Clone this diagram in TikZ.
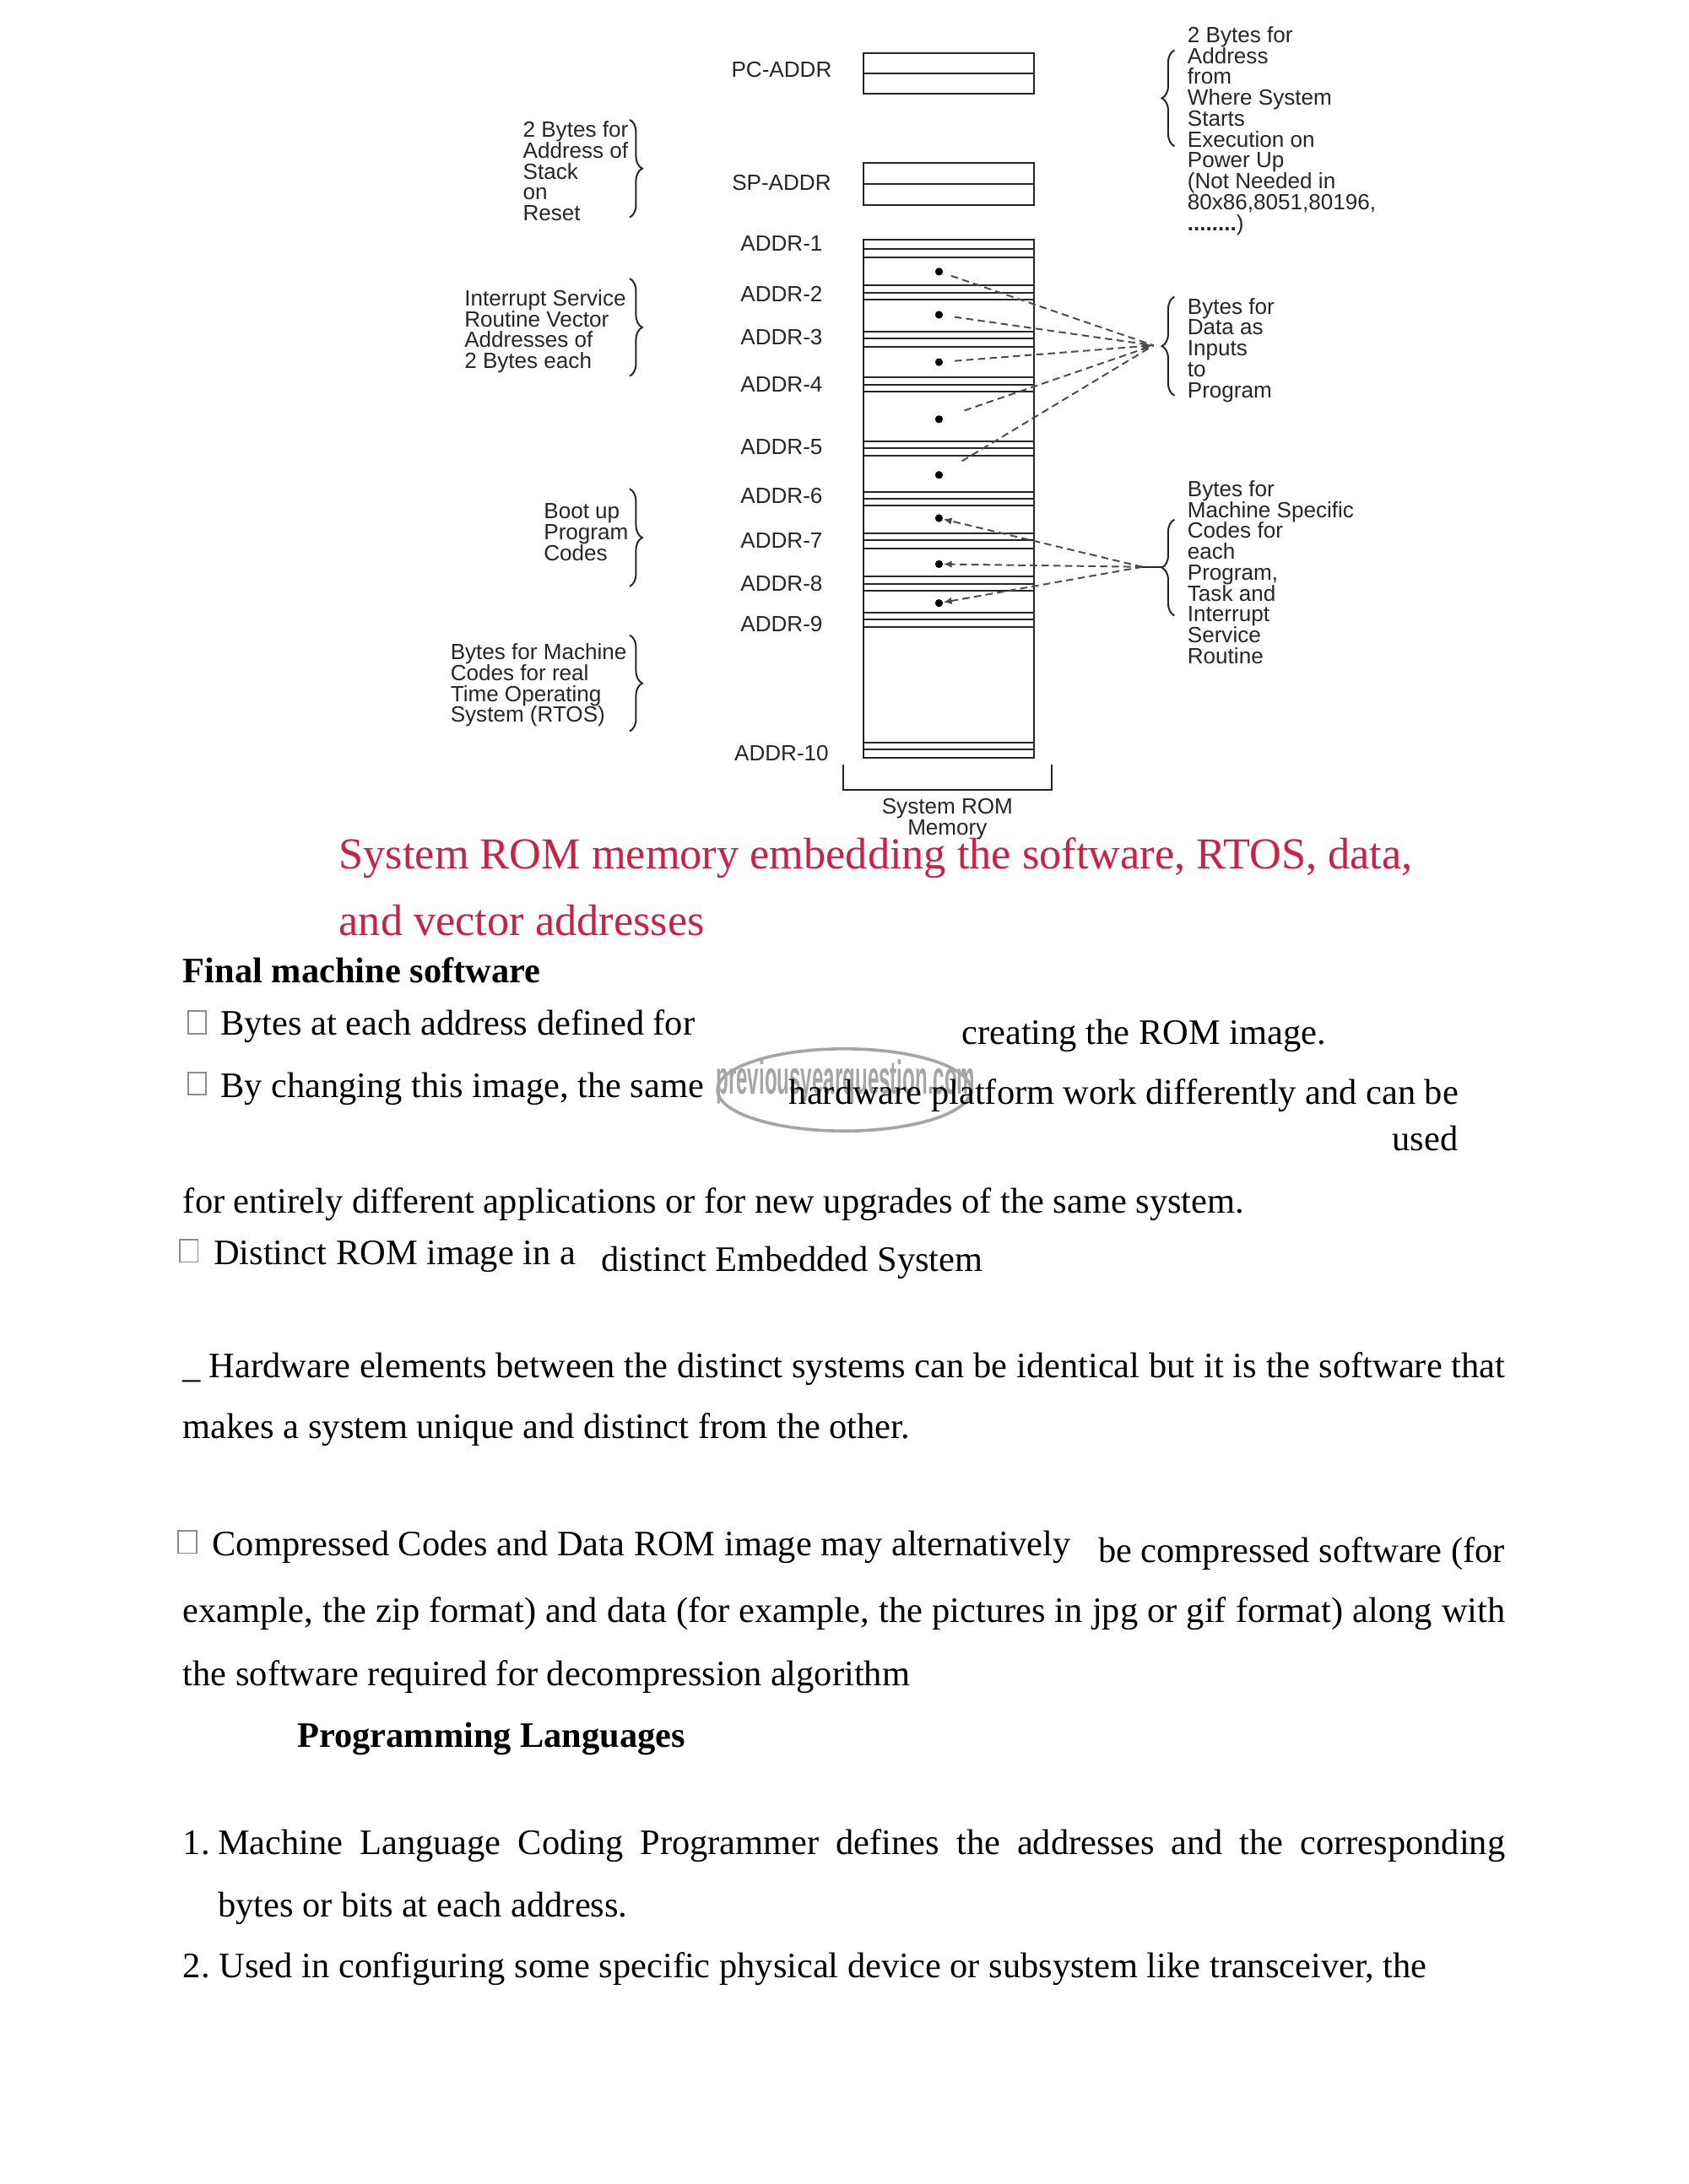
\documentclass[tikz,border=0pt]{standalone}
\usepackage{fontspec}
\usepackage{graphicx}
\setmainfont{Liberation Serif}
\newfontfamily\diagfont{Liberation Sans}
\usetikzlibrary{decorations.pathreplacing,arrows.meta,calc}
\definecolor{capred}{RGB}{200,35,70}
\definecolor{wmgray}{RGB}{165,165,165}
\begin{document}
\begin{tikzpicture}[x=0.5pt,y=-0.5pt,
  lbl/.style={font=\diagfont\fontsize{7.9}{7.5}\selectfont, inner sep=0pt, text=black!85},
  blk/.style={lbl, align=left, anchor=base west},
  addr/.style={lbl, anchor=center},
  mem/.style={line width=0.6pt, draw=black!85},
  dot/.style={circle, fill=black, inner sep=0pt, minimum size=2.8pt},
  dashline/.style={line width=0.6pt, draw=black!70, dash pattern=on 2.6pt off 1.6pt},
  brc/.style={decorate, decoration={brace, amplitude=4.5pt}, line width=0.6pt, draw=black!85},
  body/.style={font=\fontsize{12.85}{15}\selectfont, inner sep=0pt, anchor=base west},
  captxt/.style={font=\fontsize{15.85}{18}\selectfont, inner sep=0pt, anchor=base west, text=capred},
  bbox/.style={draw=black!45, line width=0.5pt},
  wm/.style={draw=wmgray, line width=1.1pt}
]
\useasboundingbox[fill=white] (0,0) rectangle (1212,1568);

% ---------- memory boxes ----------
\draw[mem] (620,38) rectangle (742,67);
\draw[mem] (620,53) -- (742,53);
\draw[mem] (620,117) rectangle (742,147);
\draw[mem] (620,132) -- (742,132);
\draw[mem] (620,172) rectangle (742,544);
\foreach \yy in {179,185, 205,210,215, 238,243,249, 271,276,281, 317,322,327,
                 353,358,363, 383,388,394, 414,419,424, 440,445,450, 533,538}
  \draw[mem] (620,\yy) -- (742,\yy);

% bottom bracket
\draw[mem] (605,549) -- (605,567) -- (755,567) -- (755,549);
\node[lbl, align=center, anchor=center] (romlbl) at (680,588) {System ROM\\Memory};

% ---------- address labels ----------
\node[addr] (pc) at (561,50) {PC-ADDR};
\node[addr] (sp) at (561,131) {SP-ADDR};
\foreach \n/\yy in {1/175,2/211,3/242,4/276,5/321,6/356,7/388,8/419,9/448,10/541}
  \node[addr] (a\n) at (561,\yy) {ADDR-\n};

% ---------- dots and dashed connectors ----------
\foreach \n/\yy in {1/195,2/226,3/260,4/301,5/341,6/372,7/405,8/433}
  \node[dot] (d\n) at (674,\yy) {};
\coordinate (f1) at (828,248);
\coordinate (f2) at (820,407);
\coordinate (b5tip) at (834,407);
\draw[dashline, shorten <=3pt] (d1) -- (f1);
\draw[dashline, shorten <=4pt] (d2) -- (f1);
\draw[dashline, shorten <=4pt, -{Latex[length=4pt,width=3pt]}] (d3) -- (f1);
\draw[dashline, shorten <=8pt] (d4) -- (f1);
\draw[dashline, shorten <=8pt] (d5) -- (f1);
\draw[dashline, -{Latex[length=3pt,width=2.6pt]}] (f2) -- (d6);
\draw[dashline, -{Latex[length=3pt,width=2.6pt]}] (f2) -- (d7);
\draw[dashline, -{Latex[length=3pt,width=2.6pt]}] (f2) -- (d8);
\draw[line width=0.6pt, draw=black!85] (f2) -- (b5tip);

% ---------- braces ----------
\draw[brc] (452,86) -- (452,156);
\draw[brc] (452,200) -- (452,270);
\draw[brc] (452,351) -- (452,421);
\draw[brc] (452,456) -- (452,525);
\draw[brc] (843,105) -- (843,36);
\draw[brc] (843,284) -- (843,213);
\draw[brc] (843,442) -- (843,373);

% ---------- side texts (anchored at the last line's baseline) ----------
\node[blk] (stk) at (375,158.5) {2 Bytes for\\Address of\\Stack\\on\\Reset};
\node[blk] (pwr) at (852,165.5) {2 Bytes for\\Address\\from\\Where System\\Starts\\Execution on\\Power Up\\(Not Needed in\\80x86,8051,80196,\\\textbf{........})};
\node[blk] (isr) at (333,264.5) {Interrupt Service\\Routine Vector\\Addresses of\\2 Bytes each};
\node[blk] (dat) at (852,285.5) {Bytes for\\Data as\\Inputs\\to\\Program};
\node[blk] (boot) at (390,402.5) {Boot up\\Program\\Codes};
\node[blk] (msc) at (852,476.5) {Bytes for\\Machine Specific\\Codes for\\each\\Program,\\Task and\\Interrupt\\Service\\Routine};
\node[blk] (rtos) at (323,518.5) {Bytes for Machine\\Codes for real\\Time Operating\\System (RTOS)};

% ---------- caption ----------
\node[captxt] (c1) at (243,624) {System ROM memory embedding the software, RTOS, data,};
\node[captxt] (c2) at (243,671.5) {and vector addresses};

% ---------- watermark ----------
\draw[wm] (606,782.5) ellipse [x radius=91, y radius=29.5];
\node[inner sep=0pt, text=wmgray, font=\diagfont\bfseries\fontsize{17}{17}\selectfont] (wmt) at (607,777)
  {\scalebox{0.43}[1]{previousyearquestion.com}};

% ---------- body text ----------
\node[body] (h1) at (131,705.5) {\textbf{Final machine software}};
\draw[bbox] (135,726) rectangle (148,742);
\node[body] (l1) at (158,743) {Bytes at each address defined for};
\node[body] (l1b) at (690,749.5) {creating the ROM image.};
\draw[bbox] (135,770) rectangle (148,786);
\node[body] (l2) at (158,788) {By changing this image, the same};
\node[body] (l2b) at (566,793) {hardware platform work differently and can be};
\node[body, anchor=base east] (l2c) at (1047,826) {used};
\node[body] (l3) at (131,871) {for entirely different applications or for new upgrades of the same system.};
\draw[bbox] (129,890) rectangle (142,906);
\node[body] (l4) at (153,908) {Distinct ROM image in a};
\node[body] (l4b) at (431,913) {distinct Embedded System};
\node[body] (l5) at (131,989) {\makebox[474.5pt][s]{\_\hspace{3pt}Hardware elements between the distinct systems can be identical but it is the software that}};
\node[body] (l6) at (131,1033) {makes a system unique and distinct from the other.};
\draw[bbox] (128,1099) rectangle (141,1115);
\node[body] (l7) at (152,1117) {Compressed Codes and Data ROM image may alternatively};
\node[body] (l7b) at (788,1122) {be compressed software (for};
\node[body] (l8) at (131,1165) {\makebox[474.5pt][s]{example, the zip format) and data (for example, the pictures in jpg or gif format) along with}};
\node[body] (l9) at (131,1210) {the software required for decompression algorithm};
\node[body] (h2) at (213,1254.5) {\textbf{Programming Languages}};
\node[body] (n1) at (131,1331.5) {1.};
\node[body] (l10) at (156,1331.5) {\makebox[462pt][s]{Machine Language Coding Programmer defines the addresses and the corresponding}};
\node[body] (l11) at (156,1376) {bytes or bits at each address.};
\node[body] (n2) at (131,1420) {2.};
\node[body] (l12) at (157,1420) {Used in configuring some specific physical device or subsystem like transceiver, the};
\end{tikzpicture}
\end{document}
